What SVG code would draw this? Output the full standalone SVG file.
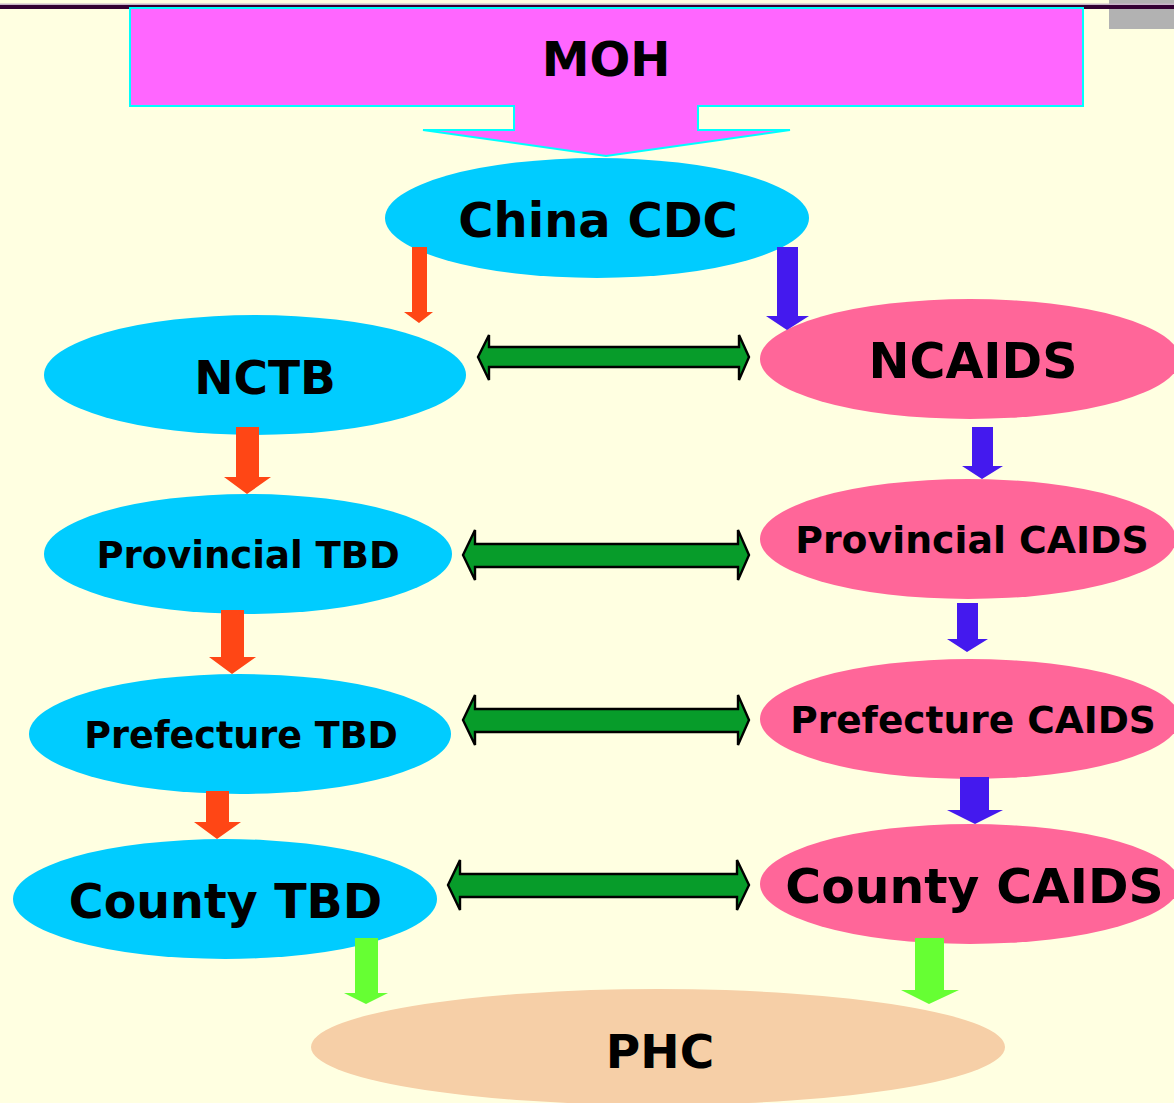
<svg xmlns="http://www.w3.org/2000/svg" width="1174" height="1103" viewBox="0 0 1174 1103">
<style>
.t{font-family:"DejaVu Sans",Verdana,sans-serif;font-weight:bold;fill:#000;text-anchor:middle}
.tb{fill:#00ccff}
.pk{fill:#ff6699}
.red{fill:#ff4615}
.blu{fill:#4419ee}
.grn{fill:#66ff33}
.dbl{fill:#079c2a;stroke:#000;stroke-width:2.4;stroke-linejoin:miter}
</style>
<rect x="0" y="0" width="1174" height="1103" fill="#ffffe1"/>
<rect x="1109" y="0" width="65" height="29" fill="#b2b2b2"/>
<rect x="0" y="3.5" width="1174" height="1.5" fill="#c8b4c8"/>
<rect x="0" y="5" width="1174" height="4" fill="#330033"/>

<g id="moh">
<polygon points="130,8 1083,8 1083,106 698,106 698,130 790,130 606,156 423,130 514,130 514,106 130,106" fill="#ff66ff" stroke="#00ffff" stroke-width="2"/>
<text class="t" x="606" y="76" font-size="48">MOH</text>
</g>
<g id="china-cdc">
<ellipse class="tb" cx="597" cy="218" rx="212" ry="60"/>
<text class="t" x="598" y="237" font-size="48">China CDC</text>
</g>
<g id="nctb">
<ellipse class="tb" cx="255" cy="375" rx="211" ry="60"/>
<text class="t" x="265" y="394" font-size="47">NCTB</text>
</g>
<g id="ncaids">
<ellipse class="pk" cx="970" cy="359" rx="210" ry="60"/>
<text class="t" x="973" y="378" font-size="49">NCAIDS</text>
</g>
<g id="provincial-tbd">
<ellipse class="tb" cx="248" cy="554" rx="204" ry="60"/>
<text class="t" x="248" y="568" font-size="37">Provincial TBD</text>
</g>
<g id="provincial-caids">
<ellipse class="pk" cx="968" cy="539" rx="208" ry="60"/>
<text class="t" x="972" y="553" font-size="37.8">Provincial CAIDS</text>
</g>
<g id="prefecture-tbd">
<ellipse class="tb" cx="240" cy="734" rx="211" ry="60"/>
<text class="t" x="241" y="748" font-size="36.5">Prefecture TBD</text>
</g>
<g id="prefecture-caids">
<ellipse class="pk" cx="970" cy="719" rx="210" ry="60"/>
<text class="t" x="973" y="733" font-size="37.5">Prefecture CAIDS</text>
</g>
<g id="county-tbd">
<ellipse class="tb" cx="225" cy="899" rx="212" ry="60"/>
<text class="t" x="225.5" y="918" font-size="47.5">County TBD</text>
</g>
<g id="county-caids">
<ellipse class="pk" cx="970" cy="884" rx="210" ry="60"/>
<text class="t" x="974.5" y="903" font-size="48.8">County CAIDS</text>
</g>
<g id="phc">
<ellipse cx="658" cy="1047" rx="347" ry="58" fill="#f6cfa7"/>
<text class="t" x="660" y="1068" font-size="47">PHC</text>
</g>

<g id="connectors">
<polygon class="red" points="412,247 427,247 427,312 433,312 419,323 404,312 412,312"/>
<polygon class="red" points="236,427 259,427 259,477 271,477 247,494 224,477 236,477"/>
<polygon class="red" points="221,610 244,610 244,657 256,657 232,674 209,657 221,657"/>
<polygon class="red" points="206,791 229,791 229,822 241,822 217,839 194,822 206,822"/>

<polygon class="blu" points="777,247 798,247 798,316 809,316 787,330 766,316 777,316"/>
<polygon class="blu" points="972,427 993,427 993,466 1003,466 982,479 962,466 972,466"/>
<polygon class="blu" points="957,603 978,603 978,639 988,639 967,652 947,639 957,639"/>
<polygon class="blu" points="960,777 989,777 989,810 1003,810 975,824 947,810 960,810"/>

<polygon class="grn" points="355,938 378,938 378,993 388,993 366,1004 344,993 355,993"/>
<polygon class="grn" points="915,938 944,938 944,990 959,990 929,1004 901,990 915,990"/>

<polygon class="dbl" points="478,357 489,335 489,347 739,347 739,335 749,357 739,380 739,367 489,367 489,380"/>
<polygon class="dbl" points="463,555 475,530 475,544 738,544 738,530 749,555 738,580 738,567 475,567 475,580"/>
<polygon class="dbl" points="463,720 475,695 475,709 738,709 738,695 749,720 738,745 738,732 475,732 475,745"/>
<polygon class="dbl" points="448,885 460,860 460,874 737,874 737,860 749,885 737,910 737,897 460,897 460,910"/>
</g>
</svg>
